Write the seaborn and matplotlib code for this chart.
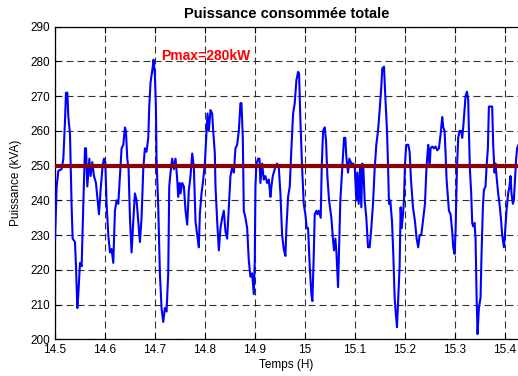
import numpy as np
import pandas as pd
import matplotlib
matplotlib.use("Agg")
import matplotlib.pyplot as plt
import seaborn as sns

# ---- data ----
time_h = [
    14.5000, 14.5033, 14.5067, 14.5133, 14.5167, 14.5200, 14.5220, 14.5247, 14.5267, 14.5300,
    14.5313, 14.5333, 14.5353, 14.5400, 14.5420, 14.5447, 14.5467, 14.5500, 14.5533, 14.5567,
    14.5600, 14.5620, 14.5647, 14.5687, 14.5713, 14.5747, 14.5780, 14.5820, 14.5847, 14.5880,
    14.5913, 14.5953, 14.5980, 14.6007, 14.6033, 14.6067, 14.6100, 14.6133, 14.6167, 14.6200,
    14.6233, 14.6267, 14.6300, 14.6333, 14.6367, 14.6400, 14.6420, 14.6447, 14.6473, 14.6500,
    14.6533, 14.6567, 14.6600, 14.6633, 14.6667, 14.6700, 14.6733, 14.6767, 14.6800, 14.6833,
    14.6867, 14.6887, 14.6913, 14.6953, 14.6973, 14.7000, 14.7020, 14.7033, 14.7067, 14.7100,
    14.7133, 14.7167, 14.7200, 14.7233, 14.7267, 14.7287,
    14.7313, 14.7347, 14.7380, 14.7413, 14.7447, 14.7467, 14.7493, 14.7513, 14.7547, 14.7580,
    14.7613, 14.7647, 14.7680, 14.7713, 14.7747, 14.7780, 14.7813, 14.7847, 14.7880, 14.7900,
    14.7933, 14.7960, 14.8000, 14.8027, 14.8053, 14.8080, 14.8113, 14.8147, 14.8167, 14.8200,
    14.8213, 14.8247, 14.8280, 14.8313, 14.8347, 14.8380, 14.8413, 14.8447, 14.8480, 14.8513,
    14.8547, 14.8580, 14.8613, 14.8647, 14.8680, 14.8713, 14.8733, 14.8760, 14.8780, 14.8813,
    14.8847, 14.8880, 14.8913, 14.8947, 14.8980, 14.9000, 14.9013, 14.9033, 14.9067, 14.9093,
    14.9113, 14.9147, 14.9180, 14.9213, 14.9247, 14.9280, 14.9313, 14.9333, 14.9360, 14.9413,
    14.9447, 14.9480, 14.9513, 14.9547, 14.9580, 14.9613, 14.9633,
    14.9667, 14.9700, 14.9733, 14.9767, 14.9800, 14.9833, 14.9867, 14.9887, 14.9913, 14.9947,
    14.9980, 15.0013, 15.0040, 15.0067, 15.0100, 15.0133, 15.0153, 15.0180, 15.0200, 15.0233,
    15.0253, 15.0280, 15.0320, 15.0340, 15.0367, 15.0400, 15.0427, 15.0453, 15.0487, 15.0533,
    15.0567, 15.0587, 15.0613, 15.0633, 15.0667, 15.0687, 15.0713, 15.0753, 15.0787, 15.0813,
    15.0833, 15.0867, 15.0893, 15.0933, 15.0967, 15.1000, 15.1033, 15.1053, 15.1080, 15.1107,
    15.1133, 15.1153, 15.1173, 15.1200, 15.1233, 15.1267, 15.1300, 15.1333, 15.1367, 15.1400,
    15.1433, 15.1467, 15.1500, 15.1533, 15.1553, 15.1587, 15.1613, 15.1647, 15.1667, 15.1687,
    15.1713, 15.1747, 15.1773, 15.1800, 15.1820, 15.1847, 15.1867, 15.1900,
    15.1920, 15.1940, 15.1967, 15.1987, 15.2007, 15.2033, 15.2073, 15.2100, 15.2127, 15.2167,
    15.2207, 15.2240, 15.2273, 15.2300, 15.2333, 15.2367, 15.2407, 15.2433, 15.2453, 15.2473,
    15.2500, 15.2520, 15.2553, 15.2587, 15.2620, 15.2653, 15.2687, 15.2720, 15.2753, 15.2773,
    15.2800, 15.2820, 15.2840, 15.2867, 15.2887, 15.2920, 15.2953, 15.2973, 15.3000, 15.3020,
    15.3047, 15.3073, 15.3100, 15.3133, 15.3153, 15.3173, 15.3193, 15.3220, 15.3247, 15.3273,
    15.3287, 15.3307, 15.3333, 15.3353, 15.3373, 15.3400, 15.3420, 15.3440, 15.3460, 15.3487,
    15.3520, 15.3540, 15.3567, 15.3587, 15.3620, 15.3640, 15.3667, 15.3687, 15.3720, 15.3753,
    15.3773, 15.3800, 15.3820, 15.3840, 15.3873, 15.3907, 15.3933, 15.3953, 15.3987, 15.4007,
    15.4040, 15.4073, 15.4100, 15.4120, 15.4140, 15.4167, 15.4187, 15.4207, 15.4233, 15.4253,
    15.4280,
]
power_kva = [
    228.5, 244, 248.5, 249, 252, 263, 271, 271, 264, 259,
    251, 238, 229, 228, 221, 209, 213, 222, 221, 239,
    255, 255, 244, 252, 247, 251, 247, 245, 241, 236,
    243, 250, 252, 251, 239, 230, 225, 226, 222, 237,
    240, 239, 247, 255, 256, 261, 260, 252, 249, 235,
    225, 234, 242, 240, 234, 228, 235, 249, 255, 254,
    258, 267, 274, 278, 280.5, 276, 267, 252, 238, 219,
    209, 205, 209, 208, 219, 244,
    248, 252, 249, 252, 246, 241, 245, 242, 245, 244,
    237, 233, 243, 247, 253.5, 249.6, 234, 230, 226.5, 236,
    242, 245, 250.6, 258, 265, 260, 266, 265, 260, 253.5,
    244, 234, 225.6, 232, 235, 237, 231, 229, 238, 247,
    249.6, 248, 255, 256, 260, 268, 268, 258, 237, 235,
    232, 222.7, 218, 219, 213, 222.7, 244, 250.6, 252, 252,
    245, 250.6, 246, 247, 245, 246, 241, 244, 247, 249.6,
    250.6, 249.6, 242, 230, 226, 224, 232,
    241, 244, 255, 265, 268, 274.6, 277, 276.5, 263, 249.6,
    239, 236, 232, 232, 221, 213, 211, 224, 236, 237,
    236, 237, 235, 249.6, 260, 261, 257, 247, 240, 235,
    228.5, 225.6, 229, 225.6, 215, 225.6, 240, 249.6, 258, 258,
    252.5, 248, 252, 250.6, 250.6, 250, 240, 248, 239, 249.6,
    238, 250.6, 249.6, 240, 235, 226.5, 226.5, 232, 239, 249,
    256, 260, 266, 272.7, 278, 278.5, 270, 260, 250.6, 239,
    240, 234, 224.6, 212, 208, 203.5, 210, 221,
    238, 232, 236, 240, 250.6, 256, 256, 254, 246, 238,
    234, 229, 226.5, 230, 230, 234, 239, 248, 252.5, 256,
    249.6, 255, 255.5, 255, 255.5, 254.4, 255, 259, 264, 261,
    260, 253.5, 246, 241, 237, 236, 231, 226.5, 224.6, 231,
    249, 258, 260, 260, 258, 261, 265, 270, 271.3, 269,
    260, 249, 242, 233.5, 232.5, 233.5, 229, 213, 201.5, 209,
    212, 224.6, 238, 243, 244, 249.6, 255, 267, 267, 267,
    256, 248, 250.6, 247, 242, 238, 234, 230, 226.5, 230,
    237, 242, 244, 247, 242, 239, 240, 245, 252, 255,
    256,
]
threshold_kva = 250
xtick_values = [14.5, 14.6, 14.7, 14.8, 14.9, 15.0, 15.1, 15.2, 15.3, 15.4]
xtick_labels = ["14.5", "14.6", "14.7", "14.8", "14.9", "15", "15.1", "15.2", "15.3", "15.4"]
ytick_values = [200, 210, 220, 230, 240, 250, 260, 270, 280, 290]
title_text = "Puissance consommée totale"
xlabel_text = "Temps (H)"
ylabel_text = "Puissance (kVA)"
annot_text = "Pmax=280kW"
annot_pos = (14.712, 281.6)

# ---- style ----
sns.set_theme(style="white")
plt.rcParams["font.family"] = ["Liberation Sans", "DejaVu Sans"]
plt.rcParams["xtick.direction"] = "in"
plt.rcParams["ytick.direction"] = "in"
plt.rcParams["text.color"] = "black"
plt.rcParams["axes.labelcolor"] = "black"
plt.rcParams["axes.titlecolor"] = "black"

fig = plt.figure(figsize=(5.18, 3.76), dpi=100)
ax = fig.add_axes([0.1062, 0.0976, 0.8938, 0.8314])

df = pd.DataFrame({"t": time_h, "p": power_kva})
sns.lineplot(data=df, x="t", y="p", ax=ax, color="#0000ff", linewidth=1.5,
             estimator=None, sort=False, zorder=3)
ax.axhline(threshold_kva, color="#8b0000", linewidth=3.0, zorder=4)

ax.set_xlim(14.5, 15.427)
ax.set_ylim(200, 290)
ax.set_xticks(xtick_values)
ax.set_xticklabels(xtick_labels)
ax.set_yticks(ytick_values)
ax.tick_params(labelsize=8.5, colors="black", length=4, width=0.8,
               top=True, left=True, bottom=True, right=False)

ax.grid(True, color="#333333", linestyle=(0, (6.3, 3.6)), linewidth=0.8)
for side in ["left", "top", "bottom"]:
    ax.spines[side].set_visible(True)
    ax.spines[side].set_color("black")
    ax.spines[side].set_linewidth(0.9)
ax.spines["right"].set_visible(False)

ax.set_title(title_text, fontsize=10.5, fontweight="bold", pad=6, color="black")
ax.set_xlabel(xlabel_text, fontsize=8.5, labelpad=2, color="black")
ax.set_ylabel(ylabel_text, fontsize=8.5, labelpad=6, color="black")
ax.text(annot_pos[0], annot_pos[1], annot_text, color="#ff0000", fontsize=10,
        fontweight="bold", va="center", ha="left", zorder=5)

fig.savefig("out.png", dpi=100)
